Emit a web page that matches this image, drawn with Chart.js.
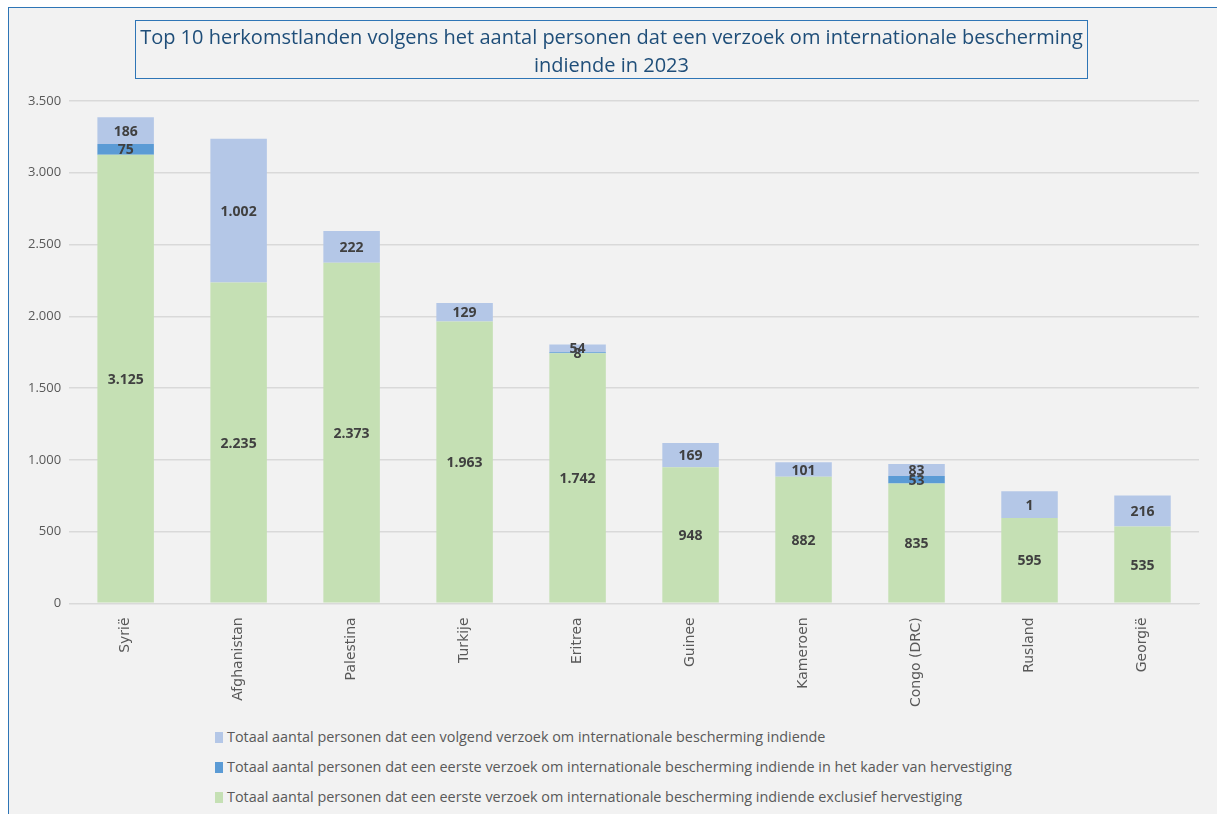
<!DOCTYPE html>
<html>
<head>
<meta charset="utf-8">
<script src="https://cdn.jsdelivr.net/npm/chart.js@4.4.1/dist/chart.umd.min.js"></script>
<style>
  html, body { margin: 0; padding: 0; background: #fff; }
  #frame {
    position: absolute; left: 8px; top: 7px; width: 1209px; height: 807px;
    background: #f2f2f2; border-top: 1px solid #2e75b6; border-left: 1px solid #2e75b6;
  }
  #title {
    position: absolute; left: 135px; top: 20px; width: 953px; height: 59px;
    border: 1px solid #2e75b6; box-sizing: border-box;
    font-family: "Open Sans", sans-serif; font-size: 20px;
    color: #1f4e79; text-align: center; line-height: 28px; padding-top: 2px;
  }
  #chartWrap { position: absolute; left: 0; top: 0; width: 1217px; height: 720px; }
  #legend {
    position: absolute; left: 215px; top: 727px;
    font-family: "Open Sans", sans-serif; font-size: 14.4px; color: #595959;
  }
  #legend div { height: 30px; line-height: 20px; }
  #legend span.box { display: inline-block; width: 8px; height: 11px; margin-right: 4px; vertical-align: -1px; }
</style>
</head>
<body>
<div id="frame"></div>
<div id="chartWrap"><canvas id="chart" width="1217" height="720"></canvas></div>
<div id="title">Top 10 herkomstlanden volgens het aantal personen dat een verzoek om internationale bescherming<br>indiende in 2023</div>
<div id="legend"></div>
<script>
const countries = ['Syrië', 'Afghanistan', 'Palestina', 'Turkije', 'Eritrea', 'Guinee', 'Kameroen', 'Congo (DRC)', 'Rusland', 'Georgië'];
const exclusief = [3125, 2235, 2373, 1963, 1742, 948, 882, 835, 595, 535];
const hervestiging = [75, 0, 0, 0, 8, 0, 0, 53, 0, 0];
const volgend = [186, 1002, 222, 129, 54, 169, 101, 83, 186, 216];
// label as printed in the picture (Rusland shows "1")
const volgendLabels = ['186', '1.002', '222', '129', '54', '169', '101', '83', '1', '216'];
const yTicks = [0, 500, 1000, 1500, 2000, 2500, 3000, 3500];

const fmt = n => String(n).replace(/\B(?=(\d{3})+(?!\d))/g, '.');

// stacking order: bottom to top
const datasets = [
  { label: 'Totaal aantal personen dat een eerste verzoek om internationale bescherming indiende exclusief hervestiging',
    data: exclusief, backgroundColor: '#c5e0b4' },
  { label: 'Totaal aantal personen dat een eerste verzoek om internationale bescherming indiende in het kader van hervestiging',
    data: hervestiging, backgroundColor: '#5b9bd5' },
  { label: 'Totaal aantal personen dat een volgend verzoek om internationale bescherming indiende',
    data: volgend, backgroundColor: '#b4c7e7', customLabels: volgendLabels }
];

const barLabels = {
  id: 'barLabels',
  afterDatasetsDraw(chart) {
    const ctx = chart.ctx;
    ctx.save();
    ctx.font = 'bold 14px "Open Sans", sans-serif';
    ctx.fillStyle = '#404040';
    ctx.textAlign = 'center';
    ctx.textBaseline = 'middle';
    chart.data.datasets.forEach((ds, i) => {
      const meta = chart.getDatasetMeta(i);
      meta.data.forEach((bar, j) => {
        const v = ds.data[j];
        if (!v) return;
        const txt = ds.customLabels ? ds.customLabels[j] : fmt(v);
        ctx.fillText(txt, bar.x, (bar.y + bar.base) / 2 + 1);
      });
    });
    ctx.restore();
  }
};

new Chart(document.getElementById('chart'), {
  type: 'bar',
  data: { labels: countries, datasets },
  options: {
    responsive: false,
    animation: false,
    layout: { padding: { top: 101, left: 20, right: 18, bottom: 7 } },
    plugins: { legend: { display: false }, title: { display: false }, tooltip: { enabled: false } },
    datasets: { bar: { barPercentage: 0.5, categoryPercentage: 1 } },
    scales: {
      x: {
        stacked: true,
        grid: { display: false },
        border: { color: '#d9d9d9' },
        ticks: { color: '#595959', font: { family: 'DejaVu Sans', size: 14 }, maxRotation: 90, minRotation: 90, padding: 6 }
      },
      y: {
        stacked: true, min: 0, max: 3500,
        afterBuildTicks: axis => { axis.ticks = yTicks.map(v => ({ value: v })); },
        grid: { color: '#d9d9d9', lineWidth: 1.5, drawTicks: false },
        border: { display: false },
        ticks: { color: '#595959', font: { family: '"Open Sans", sans-serif', size: 13 }, padding: 8, callback: v => fmt(v) }
      }
    }
  },
  plugins: [barLabels]
});

const legend = document.getElementById('legend');
[datasets[2], datasets[1], datasets[0]].forEach(ds => {
  const row = document.createElement('div');
  row.innerHTML = '<span class="box" style="background:' + ds.backgroundColor + '"></span>' + ds.label;
  legend.appendChild(row);
});
</script>
</body>
</html>
